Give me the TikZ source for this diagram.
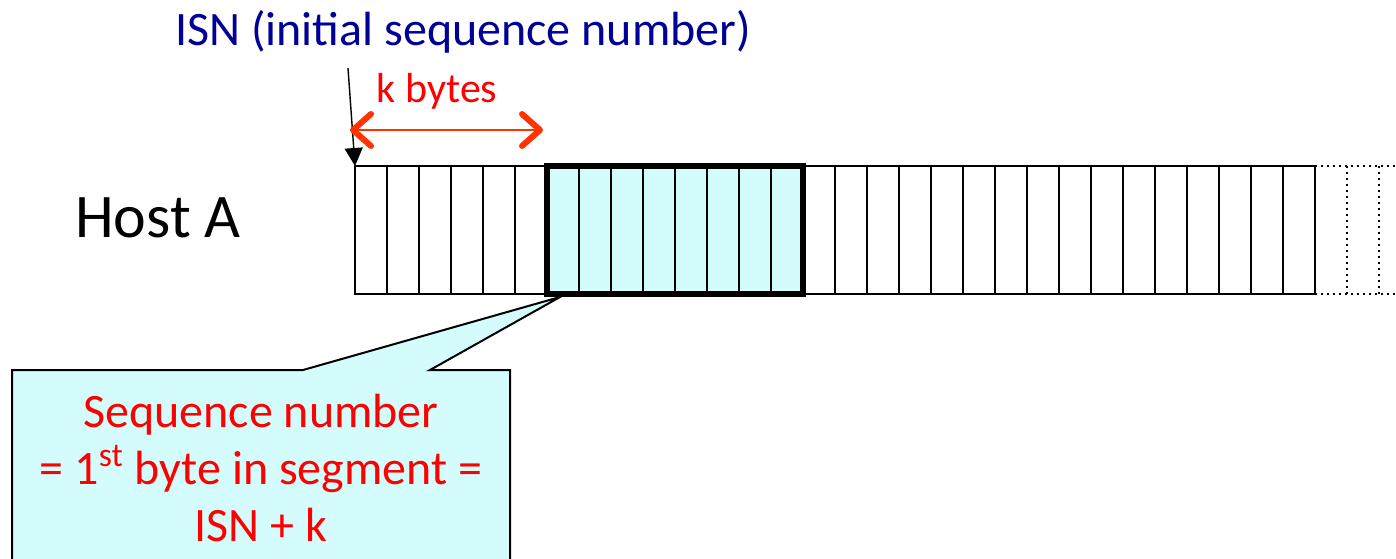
\documentclass[tikz,border=0pt]{standalone}
\usepackage{fontspec}
\setmainfont{Carlito}
\usepackage{tikz}
\usetikzlibrary{positioning,arrows.meta}
\definecolor{isnblue}{HTML}{000099}
\definecolor{segcyan}{HTML}{D4FCFC}
\definecolor{seqred}{HTML}{FF0000}
\definecolor{kred}{HTML}{FF3300}

\begin{document}
\begin{tikzpicture}[
	x=0.5pt, y=-0.5pt,
	every node/.style={inner sep=0pt},
	cell/.style={draw, line width=1pt},
	segment/.style={draw, line width=3.4pt, minimum width=128pt, minimum height=64pt},
	hostlabel/.style={font=\fontsize{31}{36}\selectfont},
	isnlabel/.style={text=isnblue, font=\fontsize{24}{28}\selectfont},
	kbyteslabel/.style={text=seqred, font=\fontsize{21}{25}\selectfont},
	calltext/.style={text=seqred, align=center, font=\fontsize{24}{28.5}\selectfont},
	karrow/.style={{Straight Barb[length=9pt, width=16pt, line width=3pt, round]}-{Straight Barb[length=9pt, width=16pt, line width=3pt, round]}, kred, line width=0.8pt},
	isnarrow/.style={-{Triangle[length=9pt, width=9pt]}, line width=0.7pt}
	]
	\useasboundingbox (0,0) rectangle (1396,558);
	
	% byte stream
	\fill[segcyan] (547,166) rectangle (803,294);
	\foreach \i in {0,...,29}
		\draw[cell] (355+32*\i,166) rectangle ++(32,128);
	\draw[dotted, line width=1pt] (1315,166) -- (1396,166) (1315,294) -- (1396,294)
		(1347,166) -- (1347,294) (1379,166) -- (1379,294);
	\node[segment] (seg) at (675,230) {};
	\coordinate (first) at (355,166);
	
	\node[hostlabel] (host) at (158,218) {Host A};
	\node[isnlabel] (isn) at (463,32) {ISN (initial sequence number)};
	\node[kbyteslabel] (kbytes) at (437,91) {k bytes};
	
	\coordinate (isnfoot) at (348,68);
	\draw[isnarrow] (isnfoot) -- (first);
	\coordinate (kl) at (350,130);
	\coordinate (kr) at (543,130);
	\draw[karrow] (kl) -- (kr);
	
	% callout
	\coordinate (tip) at (560,297);
	\fill[segcyan] (12,560) -- (12,370) -- (303,370) -- (tip) -- (430,370) -- (510,370) -- (510,560) -- cycle;
	\draw[line width=1pt] (12,560) -- (12,370) -- (303,370) -- (tip) -- (430,370) -- (510,370) -- (510,560);
	\node[calltext] (seqno) at (261,468) {Sequence number\\= 1\textsuperscript{st} byte in segment =\\ISN + k};
	
\end{tikzpicture}
\end{document}
